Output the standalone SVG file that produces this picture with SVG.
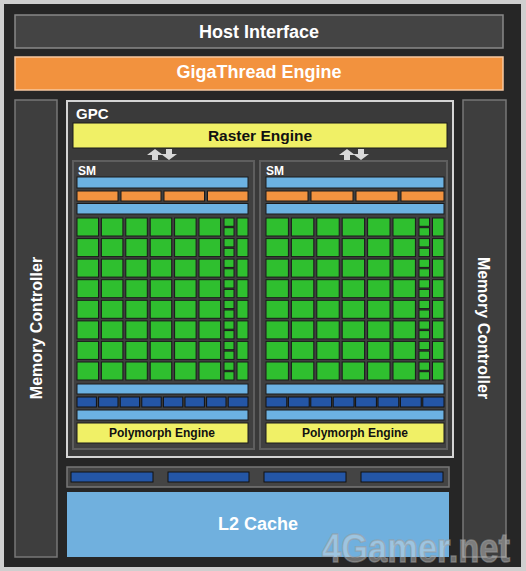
<svg xmlns="http://www.w3.org/2000/svg" width="526" height="571" viewBox="0 0 526 571">
<style>
text{font-family:"Liberation Sans",Arial,sans-serif;font-weight:bold}
.w{fill:#fff}
.k{fill:#111}
.g{fill:#2fbf2f;stroke:#1a1a1a;stroke-width:1}
.b{fill:#6cb2e2;stroke:#1a1a1a;stroke-width:1}
.o{fill:#f29340;stroke:#1a1a1a;stroke-width:1}
.d{fill:#2456a6;stroke:#111;stroke-width:1}
.y{fill:#f0f066;stroke:#1a1a1a;stroke-width:1}
.mc{fill:#3e3e3e;stroke:#777;stroke-width:1.5}
.sm{fill:#404040;stroke:#5e5e5e;stroke-width:2}
.ar{fill:#d8d8d8}
</style>
<defs>
<g id="rowL">
<rect class="g" x="77" y="0" width="21.5" height="18"/>
<rect class="g" x="101.4" y="0" width="21.5" height="18"/>
<rect class="g" x="125.8" y="0" width="21.5" height="18"/>
<rect class="g" x="150.2" y="0" width="21.5" height="18"/>
<rect class="g" x="174.6" y="0" width="21.5" height="18"/>
<rect class="g" x="199" y="0" width="21.5" height="18"/>
<rect class="g" x="224" y="0" width="10" height="8.3"/>
<rect class="g" x="224" y="9.7" width="10" height="8.3"/>
<rect class="g" x="237" y="0" width="11" height="18"/>
</g>
<g id="rowR">
<rect class="g" x="266" y="0" width="22.4" height="18"/>
<rect class="g" x="291.4" y="0" width="22.4" height="18"/>
<rect class="g" x="316.8" y="0" width="22.4" height="18"/>
<rect class="g" x="342.2" y="0" width="22.4" height="18"/>
<rect class="g" x="367.6" y="0" width="22.4" height="18"/>
<rect class="g" x="393" y="0" width="22.4" height="18"/>
<rect class="g" x="419" y="0" width="10.5" height="8.3"/>
<rect class="g" x="419" y="9.7" width="10.5" height="8.3"/>
<rect class="g" x="432.5" y="0" width="11.5" height="18"/>
</g>
<path id="arr" d="M-8,0 L0,-6 L8,0 L3,0 L3,5 L-3,5 L-3,0 Z"/>
</defs>

<rect x="0" y="0" width="526" height="571" fill="#cfcfcf"/>
<rect x="4" y="4" width="517" height="563" fill="#262626"/>

<g id="host-interface">
<rect x="15" y="15" width="488" height="33" fill="#444" stroke="#888" stroke-width="1.5"/>
<text class="w" x="259" y="37.5" font-size="18" text-anchor="middle">Host Interface</text>
</g>

<g id="gigathread-engine">
<rect x="15" y="57" width="488" height="33" fill="#f2923e" stroke="#f7c8a0" stroke-width="1.5"/>
<text class="w" x="259" y="78" font-size="18" text-anchor="middle">GigaThread Engine</text>
</g>

<g id="memory-controller-left">
<rect class="mc" x="15" y="100" width="42" height="457"/>
<text class="w" transform="translate(42,328) rotate(-90)" font-size="16" text-anchor="middle">Memory Controller</text>
</g>

<g id="memory-controller-right">
<rect class="mc" x="463" y="100" width="43" height="457"/>
<text class="w" transform="translate(478,328) rotate(90)" font-size="16" text-anchor="middle">Memory Controller</text>
</g>

<g id="gpc">
<rect x="67" y="101" width="386" height="356" fill="#3a3a3a" stroke="#d4d4d4" stroke-width="2"/>
<text class="w" x="76" y="119" font-size="15">GPC</text>
</g>

<g id="raster-engine">
<rect class="y" x="73" y="123" width="374" height="25"/>
<text class="k" x="260" y="140.5" font-size="15.5" text-anchor="middle">Raster Engine</text>
</g>

<g id="connectors">
<use href="#arr" class="ar" transform="translate(155,155)"/>
<use href="#arr" class="ar" transform="translate(169,154) rotate(180)"/>
<use href="#arr" class="ar" transform="translate(347,155)"/>
<use href="#arr" class="ar" transform="translate(361,154) rotate(180)"/>
</g>

<g id="sm-left">
<rect class="sm" x="73" y="161" width="181" height="288"/>
<text class="w" x="78" y="175" font-size="12">SM</text>
<rect class="b" x="77" y="177" width="171" height="11"/>
<rect class="o" x="77" y="191" width="41" height="10"/>
<rect class="o" x="121" y="191" width="40" height="10"/>
<rect class="o" x="164" y="191" width="40.5" height="10"/>
<rect class="o" x="207.5" y="191" width="40.5" height="10"/>
<rect class="b" x="77" y="203.5" width="171" height="10.5"/>
<use href="#rowL" y="218"/>
<use href="#rowL" y="238.6"/>
<use href="#rowL" y="259.1"/>
<use href="#rowL" y="279.7"/>
<use href="#rowL" y="300.3"/>
<use href="#rowL" y="320.9"/>
<use href="#rowL" y="341.4"/>
<use href="#rowL" y="362"/>
<rect class="b" x="77" y="384" width="171" height="10"/>
<rect class="d" x="77" y="397" width="19.4" height="10"/>
<rect class="d" x="98.6" y="397" width="19.4" height="10"/>
<rect class="d" x="120.2" y="397" width="19.4" height="10"/>
<rect class="d" x="141.8" y="397" width="19.4" height="10"/>
<rect class="d" x="163.4" y="397" width="19.4" height="10"/>
<rect class="d" x="185" y="397" width="19.4" height="10"/>
<rect class="d" x="206.6" y="397" width="19.4" height="10"/>
<rect class="d" x="228.2" y="397" width="19.8" height="10"/>
<rect class="b" x="77" y="410" width="171" height="10"/>
<rect class="y" x="77" y="423" width="171" height="20"/>
<text class="k" x="162" y="437" font-size="12" text-anchor="middle">Polymorph Engine</text>
</g>

<g id="sm-right">
<rect class="sm" x="260" y="161" width="187" height="288"/>
<text class="w" x="266" y="175" font-size="12">SM</text>
<rect class="b" x="266" y="177" width="178" height="11"/>
<rect class="o" x="266" y="191" width="42" height="10"/>
<rect class="o" x="311" y="191" width="42" height="10"/>
<rect class="o" x="356" y="191" width="42" height="10"/>
<rect class="o" x="401" y="191" width="43" height="10"/>
<rect class="b" x="266" y="203.5" width="178" height="10.5"/>
<use href="#rowR" y="218"/>
<use href="#rowR" y="238.6"/>
<use href="#rowR" y="259.1"/>
<use href="#rowR" y="279.7"/>
<use href="#rowR" y="300.3"/>
<use href="#rowR" y="320.9"/>
<use href="#rowR" y="341.4"/>
<use href="#rowR" y="362"/>
<rect class="b" x="266" y="384" width="178" height="10"/>
<rect class="d" x="266" y="397" width="20.8" height="10"/>
<rect class="d" x="288.4" y="397" width="20.8" height="10"/>
<rect class="d" x="310.8" y="397" width="20.8" height="10"/>
<rect class="d" x="333.2" y="397" width="20.8" height="10"/>
<rect class="d" x="355.6" y="397" width="20.8" height="10"/>
<rect class="d" x="378" y="397" width="20.8" height="10"/>
<rect class="d" x="400.4" y="397" width="20.8" height="10"/>
<rect class="d" x="422.8" y="397" width="21.2" height="10"/>
<rect class="b" x="266" y="410" width="178" height="10"/>
<rect class="y" x="266" y="423" width="178" height="20"/>
<text class="k" x="355" y="437" font-size="12" text-anchor="middle">Polymorph Engine</text>
</g>

<g id="memory-interface">
<rect x="67" y="467" width="382" height="20" fill="#444" stroke="#777" stroke-width="1.5"/>
<rect class="d" x="71" y="472" width="82" height="10"/>
<rect class="d" x="168" y="472" width="81" height="10"/>
<rect class="d" x="264" y="472" width="82" height="10"/>
<rect class="d" x="361" y="472" width="82" height="10"/>
</g>

<g id="l2-cache">
<rect x="67" y="492" width="382" height="65" fill="#70b0de"/>
<text class="w" x="258" y="530" font-size="18" text-anchor="middle">L2 Cache</text>
</g>

<text x="322" y="562" font-size="40" textLength="188" lengthAdjust="spacingAndGlyphs" fill="#e8e8e8" fill-opacity="0.4" stroke="#9a9a9a" stroke-opacity="0.55" stroke-width="1.5">4Gamer.net</text>
</svg>
